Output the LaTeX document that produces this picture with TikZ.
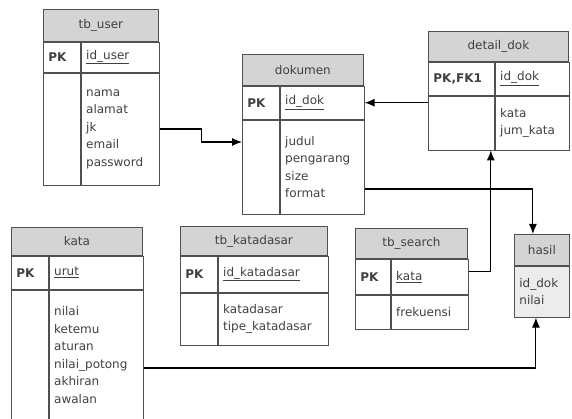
\documentclass[tikz,border=0pt]{standalone}
\usepackage{fontspec}
\setmainfont{DejaVu Sans}
\usetikzlibrary{shapes,arrows,arrows.meta,positioning}
\definecolor{linec}{HTML}{505050}
\definecolor{hdrfill}{HTML}{D4D4D4}
\definecolor{bodyfill}{HTML}{ECECEC}
\definecolor{textc}{HTML}{404040}
\tikzset{hdr/.style={draw=linec,
                     fill=hdrfill,
                     rectangle,
                     anchor=north west,
                     inner sep=0pt},
         cell/.style={draw=linec,
                      rectangle,
                      anchor=north west,
                      inner xsep=5pt,
                      inner ysep=0pt,
                      align=left},
         conn/.style={draw=black, line width=1.1pt}}

\begin{document}
\begin{tikzpicture}[x=1pt,y=-1pt,>={Latex[length=10pt,width=8pt]},line width=0.8pt,
    every node/.style={font=\fontsize{12}{17.5}\selectfont, text=textc}]
    \useasboundingbox (0,0) rectangle (572,419);
    % We start by placing the tables
    % tb_user
    \node [hdr, minimum width=115pt, minimum height=32pt] (user) at (43,9) {tb\_user};
    \node [cell, text width=27pt, minimum height=30pt] (userpk) at (user.south west) {\bfseries PK};
    \node [cell, text width=68pt, minimum height=30pt] (userid) at (userpk.north east) {\underline{id\_user}};
    \node [cell, text width=27pt, minimum height=112pt] (userbl) at (userpk.south west) {};
    \node [cell, text width=68pt, minimum height=112pt] (userbody) at (userbl.north east) {nama\\alamat\\jk\\email\\password};
    % dokumen
    \node [hdr, minimum width=121pt, minimum height=31pt] (dok) at (242,54) {dokumen};
    \node [cell, text width=27pt, minimum height=33pt] (dokpk) at (dok.south west) {\bfseries PK};
    \node [cell, text width=74pt, minimum height=33pt] (dokid) at (dokpk.north east) {\underline{id\_dok}};
    \node [cell, text width=27pt, minimum height=94pt] (dokbl) at (dokpk.south west) {};
    \node [cell, text width=74pt, minimum height=94pt] (dokbody) at (dokbl.north east) {judul\\pengarang\\size\\format};
    % detail_dok
    \node [hdr, minimum width=140pt, minimum height=30pt] (det) at (428,31) {detail\_dok};
    \node [cell, text width=56pt, minimum height=33pt] (detpk) at (det.south west) {\bfseries PK,FK1};
    \node [cell, text width=64pt, minimum height=33pt] (detid) at (detpk.north east) {\underline{id\_dok}};
    \node [cell, text width=56pt, minimum height=54pt] (detbl) at (detpk.south west) {};
    \node [cell, text width=64pt, minimum height=54pt] (detbody) at (detbl.north east) {kata\\jum\_kata};
    % kata
    \node [hdr, minimum width=131pt, minimum height=28pt] (kata) at (11,227) {kata};
    \node [cell, text width=27pt, minimum height=33pt] (katapk) at (kata.south west) {\bfseries PK};
    \node [cell, text width=84pt, minimum height=33pt] (kataid) at (katapk.north east) {\underline{urut}};
    \node [cell, text width=27pt, minimum height=130pt] (katabl) at (katapk.south west) {};
    \node [cell, text width=84pt, minimum height=130pt] (katabody) at (katabl.north east) {nilai\\ketemu\\aturan\\nilai\_potong\\akhiran\\awalan};
    % tb_katadasar
    \node [hdr, minimum width=147pt, minimum height=29pt] (kd) at (180,226) {tb\_katadasar};
    \node [cell, text width=27pt, minimum height=36pt] (kdpk) at (kd.south west) {\bfseries PK};
    \node [cell, text width=100pt, minimum height=36pt] (kdid) at (kdpk.north east) {\underline{id\_katadasar}};
    \node [cell, text width=27pt, minimum height=52pt] (kdbl) at (kdpk.south west) {};
    \node [cell, text width=100pt, minimum height=52pt] (kdbody) at (kdbl.north east) {katadasar\\tipe\_katadasar};
    % tb_search
    \node [hdr, minimum width=112pt, minimum height=30pt] (srch) at (355,228) {tb\_search};
    \node [cell, text width=25pt, minimum height=35pt] (srchpk) at (srch.south west) {\bfseries PK};
    \node [cell, text width=67pt, minimum height=35pt] (srchid) at (srchpk.north east) {\underline{kata}};
    \node [cell, text width=25pt, minimum height=34pt] (srchbl) at (srchpk.south west) {};
    \node [cell, text width=67pt, minimum height=34pt] (srchbody) at (srchbl.north east) {frekuensi};
    % hasil
    \node [hdr, minimum width=55pt, minimum height=31pt] (hasil) at (514,234) {hasil};
    \node [cell, fill=bodyfill, text width=45pt, minimum height=51pt] (hasilbody) at (hasil.south west) {id\_dok\\nilai};
    % Then we draw the relations between the tables
    \draw [conn,->] (userbody.east) -- ++(42,0) |- ([yshift=25pt]dokbl.west);
    \draw [conn,->] (detbl.west |- dokid.east) -- (dokid.east);
    \draw [conn,->] ([yshift=-22pt]dokbody.east) -| ([xshift=-9pt]hasil.north);
    \draw [conn,->] ([yshift=5pt]srchid.east) -| ([xshift=-4pt]detbl.south east);
    \draw [conn,->] ([yshift=-13pt]katabody.east) -| ([xshift=-6pt]hasilbody.south);
\end{tikzpicture}
\end{document}
